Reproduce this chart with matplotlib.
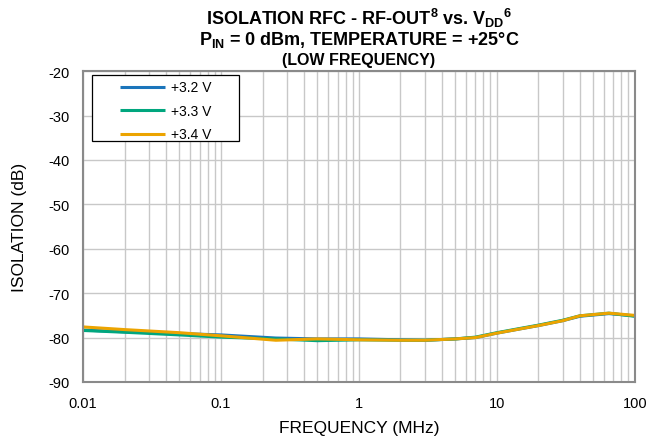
import matplotlib
matplotlib.use("Agg")
import matplotlib.pyplot as plt
from matplotlib.patches import Rectangle
from matplotlib.ticker import LogLocator, FixedLocator, NullFormatter

plt.rcParams['font.family'] = ['Liberation Sans', 'DejaVu Sans']
plt.rcParams['axes.unicode_minus'] = False
plt.rcParams['mathtext.fontset'] = 'custom'
plt.rcParams['mathtext.rm'] = 'Liberation Sans:bold'
plt.rcParams['mathtext.bf'] = 'Liberation Sans:bold'
plt.rcParams['mathtext.it'] = 'Liberation Sans:bold'

# data
freq = [0.01, 0.02, 0.05, 0.1, 0.25, 0.5, 1, 2, 3, 5, 7, 10, 15, 20, 30, 40, 65, 100]
v32 = [-78.3, -78.7, -79.1, -79.4, -80.1, -80.3, -80.3, -80.5, -80.6, -80.3, -80.0, -79.0, -78.0, -77.3, -76.2, -75.2, -74.6, -75.1]
v33 = [-78.4, -78.8, -79.4, -79.9, -80.3, -80.7, -80.5, -80.6, -80.6, -80.3, -79.9, -78.9, -77.9, -77.2, -76.1, -75.1, -74.5, -75.2]
v34 = [-77.6, -78.2, -78.9, -79.6, -80.6, -80.3, -80.5, -80.6, -80.6, -80.3, -80.0, -79.0, -78.0, -77.3, -76.2, -75.1, -74.5, -75.0]
labels = ["+3.2 V", "+3.3 V", "+3.4 V"]
colors = ["#1b75bb", "#00a67e", "#eca400"]

fig = plt.figure(figsize=(6.49, 4.39), dpi=100)
ax = fig.add_axes([0.128, 0.1276, 0.850, 0.708])

for ys, lab, c in zip([v32, v33, v34], labels, colors):
    ax.plot(freq, ys, color=c, lw=2.2, label=lab, solid_capstyle='butt')

ax.set_xscale('log')
ax.set_xlim(0.01, 100)
ax.set_ylim(-90, -20)
ax.yaxis.set_major_locator(FixedLocator(range(-90, -19, 10)))
ax.xaxis.set_minor_locator(LogLocator(base=10, subs=range(2, 10), numticks=50))
ax.xaxis.set_minor_formatter(NullFormatter())
ax.set_xticks([0.01, 0.1, 1, 10, 100])
ax.set_xticklabels(["0.01", "0.1", "1", "10", "100"])

ax.grid(True, which='major', color='#c8c8c8', lw=1)
ax.grid(True, which='minor', axis='x', color='#c8c8c8', lw=1)
ax.set_axisbelow(True)
ax.tick_params(which='both', length=0, labelsize=10.5, pad=10)
for s in ax.spines.values():
    s.set_color('#8a8a8a')
    s.set_linewidth(1.5)

ax.set_xlabel("FREQUENCY (MHz)", fontsize=12.5, labelpad=7)
ax.set_ylabel("ISOLATION (dB)", fontsize=12.5, labelpad=15)

fig.text(0.553, 0.958, r"ISOLATION RFC - RF-OUT$^{8}$ vs. V$_{DD}$$^{6}$",
         ha='center', va='center', fontsize=13, fontweight='bold')
fig.text(0.553, 0.910, r"P$_{IN}$ = 0 dBm, TEMPERATURE = +25°C",
         ha='center', va='center', fontsize=13, fontweight='bold')
fig.text(0.553, 0.862, "(LOW FREQUENCY)",
         ha='center', va='center', fontsize=11.5, fontweight='bold')

# legend box drawn like the original (wide, square corners)
ax.add_patch(Rectangle((0.0163, 0.775), 0.266, 0.212, transform=ax.transAxes,
                       facecolor='white', edgecolor='black', lw=0.9, zorder=4))
leg = ax.legend(loc='upper left', bbox_to_anchor=(0.067, 0.97), fontsize=10,
                frameon=False, handlelength=3.25, handletextpad=0.4,
                borderpad=0, labelspacing=0.68, borderaxespad=0)
leg.set_zorder(5)

fig.savefig("out.png", dpi=100)
